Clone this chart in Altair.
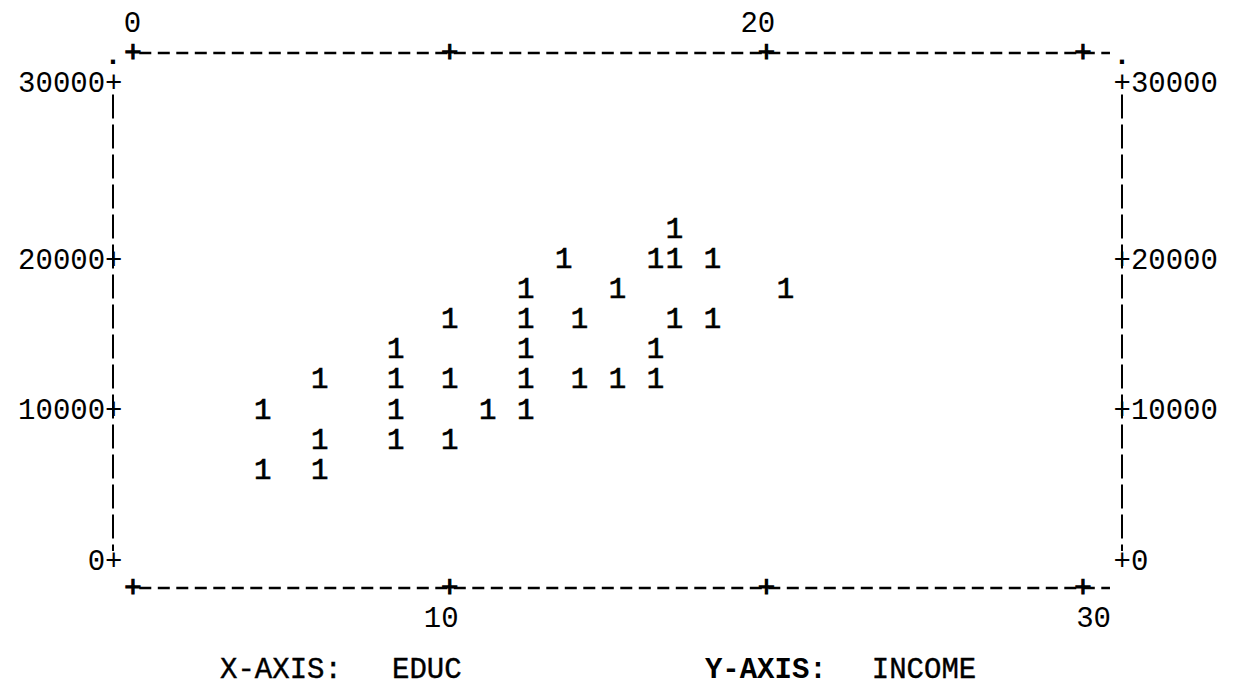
import altair as alt
import pandas as pd

# ---- data ----
educ = [4.1, 4.1,
        5.9, 5.9, 5.9,
        8.3, 8.3, 8.3, 8.3,
        10.0, 10.0, 10.0,
        11.2,
        12.4, 12.4, 12.4, 12.4, 12.4,
        13.6,
        14.1, 14.1,
        15.3, 15.3,
        16.5, 16.5, 16.5,
        17.1, 17.1, 17.1,
        18.3, 18.3,
        20.6]
income = [10000, 6000,
          12000, 8000, 6000,
          14000, 12000, 10000, 8000,
          16000, 12000, 8000,
          10000,
          18000, 16000, 14000, 12000, 10000,
          20000,
          16000, 12000,
          18000, 12000,
          20000, 14000, 12000,
          21700, 20000, 16000,
          20000, 16000,
          18000]

x_ticks = [0, 10, 20, 30]
x_top_labels = [0, 20]
x_bottom_labels = [10, 30]
y_ticks = [0, 10000, 20000, 30000]

MONO = "Liberation Mono"
FS = 29
W, H = 1009, 535

# scale extents (frame edges)
XMIN, XMAX = -0.63, 31.23
YBOT, YMID, YTOP = -1860, 20000, 31640

xs = alt.Scale(domain=[XMIN, XMAX], nice=False, zero=False)
ys = alt.Scale(domain=[YBOT, YMID, YTOP], range=[H, 206, 0], nice=False, zero=False)

common_axis = dict(domain=False, ticks=False, grid=False, title=None,
                   labelFont=MONO, labelFontSize=FS, labelColor="black",
                   labelFlush=False, labelOverlap=False, labelBound=False)

ax_left = alt.Axis(orient="left", values=y_ticks, format="d",
                   labelExpr="datum.label + '+'", labelPadding=-9, **common_axis)
ax_right = alt.Axis(orient="right", values=y_ticks, format="d",
                    labelExpr="'+' + datum.label", labelPadding=-9, **common_axis)
ax_top = alt.Axis(orient="top", values=x_top_labels, format="d", labelBaseline="middle",
                  labelPadding=31,
                  labelOffset={"condition": {"test": "datum.value == 0", "value": -1}, "value": -9},
                  **common_axis)
ax_bottom = alt.Axis(orient="bottom", values=x_bottom_labels, format="d", labelBaseline="middle",
                     labelPadding=29,
                     labelOffset={"condition": {"test": "datum.value == 30", "value": 10}, "value": -9},
                     **common_axis)

pts = pd.DataFrame({"educ": educ, "income": income})

points = alt.Chart(pts).mark_text(
    text="1", font=MONO, fontSize=FS, color="black", stroke="black", strokeWidth=0.7,
    align="center", baseline="middle"
).encode(
    x=alt.X("educ:Q", scale=xs, axis=ax_bottom),
    y=alt.Y("income:Q", scale=ys, axis=ax_left),
)

plus_df = pd.DataFrame({"px": x_ticks * 2, "py": [YTOP] * 4 + [YBOT] * 4})
plus = alt.Chart(plus_df).mark_text(
    text="+", font=MONO, fontSize=FS, color="black", stroke="black", strokeWidth=1.2,
    align="center", baseline="middle"
).encode(
    x=alt.X("px:Q", scale=xs, axis=ax_top),
    y=alt.Y("py:Q", scale=ys, axis=ax_right),
)

hdf = pd.DataFrame({"x1": [0.2, 0.2], "x2": [30.85, 30.85], "y": [YTOP, YBOT]})
hrules = alt.Chart(hdf).mark_rule(
    color="black", strokeWidth=2.5, strokeDash=[12, 6.5]
).encode(
    x=alt.X("x1:Q", scale=xs, axis=None), x2="x2:Q",
    y=alt.Y("y:Q", scale=ys, axis=None),
)

vdf = pd.DataFrame({"x": [XMIN, XMAX], "y1": [29300, 29300], "y2": [600, 600]})
vrules = alt.Chart(vdf).mark_rule(
    color="black", strokeWidth=2, strokeDash=[24, 6]
).encode(
    x=alt.X("x:Q", scale=xs, axis=None),
    y=alt.Y("y1:Q", scale=ys, axis=None), y2="y2:Q",
)

dot_df = pd.DataFrame({"x": [XMIN, XMAX], "y": [YTOP, YTOP]})
dots = alt.Chart(dot_df).mark_text(
    text=".", font=MONO, fontSize=FS, fontWeight="bold", color="black",
    align="center", baseline="middle", dy=2
).encode(
    x=alt.X("x:Q", scale=xs, axis=None),
    y=alt.Y("y:Q", scale=ys, axis=None),
)

lab_x = [2.75, 8.18, 18.06, 23.33]
lab_text = ["X-AXIS:", "EDUC", "Y-AXIS:", "INCOME"]
lab_weight = ["normal", "normal", "bold", "normal"]
lab_df = pd.DataFrame({"x": lab_x, "t": lab_text, "w": lab_weight})

lab_regular = alt.Chart(lab_df).transform_filter("datum.w == 'normal'").mark_text(
    font=MONO, fontSize=FS, color="black", stroke="black", strokeWidth=0.4,
    align="left", baseline="middle"
).encode(
    x=alt.X("x:Q", scale=xs, axis=None), y=alt.value(616), text="t:N"
)
lab_bold = alt.Chart(lab_df).transform_filter("datum.w == 'bold'").mark_text(
    font=MONO, fontSize=FS, fontWeight="bold", color="black", align="left", baseline="middle"
).encode(
    x=alt.X("x:Q", scale=xs, axis=None), y=alt.value(616), text="t:N"
)

chart = alt.layer(
    points, plus, hrules, vrules, dots, lab_regular, lab_bold
).resolve_axis(
    x="independent", y="independent"
).properties(
    width=W, height=H,
    autosize=alt.AutoSizeParams(type="none"),
    padding={"left": 105, "top": 45, "right": 110, "bottom": 102},
    background="white",
).configure_view(stroke=None)

chart.save("out.html", embed_options={"renderer": "svg", "actions": False})
